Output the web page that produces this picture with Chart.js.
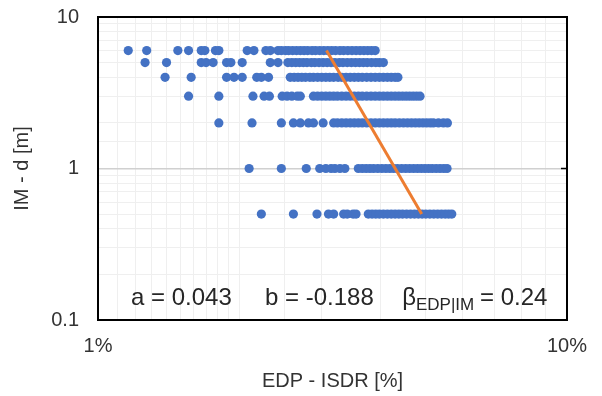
<!DOCTYPE html>
<html>
<head>
<meta charset="utf-8">
<script src="https://cdn.jsdelivr.net/npm/chart.js@4/dist/chart.umd.min.js"></script>
<style>
  html, body { margin: 0; padding: 0; background: #ffffff; }
  #c { display: block; }
</style>
</head>
<body>
<canvas id="c" width="602" height="396"></canvas>
<script>
// IM levels (d [m]) and EDP values (ISDR in %)
const imLevels = [6, 5, 4, 3, 2, 1, 0.5];
const edpAt6 = [1.16, 1.27, 1.48, 1.56, 1.66, 1.69, 1.78, 1.81, 2.08, 2.15, 2.28, 2.33, 2.42, 2.46, 2.51, 2.55, 2.60, 2.65, 2.70, 2.75, 2.80, 2.86, 2.91, 2.97, 3.03, 3.09, 3.15, 3.21, 3.28, 3.34, 3.41, 3.48, 3.55, 3.62, 3.69, 3.76, 3.83, 3.90];
const edpAt5 = [1.26, 1.40, 1.66, 1.70, 1.76, 1.88, 1.92, 2.03, 2.33, 2.42, 2.54, 2.59, 2.64, 2.69, 2.74, 2.79, 2.85, 2.90, 2.96, 3.02, 3.08, 3.14, 3.20, 3.27, 3.33, 3.40, 3.47, 3.54, 3.61, 3.68, 3.75, 3.83, 3.91, 3.98, 4.06];
const edpAt4 = [1.39, 1.58, 1.88, 1.95, 2.03, 2.18, 2.23, 2.31, 2.57, 2.62, 2.67, 2.72, 2.77, 2.83, 2.88, 2.94, 3.00, 3.06, 3.12, 3.18, 3.25, 3.31, 3.38, 3.45, 3.52, 3.59, 3.66, 3.74, 3.82, 3.90, 3.98, 4.06, 4.14, 4.22, 4.30, 4.36];
const edpAt3 = [1.56, 1.81, 2.14, 2.26, 2.32, 2.47, 2.53, 2.59, 2.66, 2.70, 2.88, 2.94, 3.00, 3.06, 3.12, 3.18, 3.24, 3.31, 3.38, 3.45, 3.52, 3.59, 3.66, 3.74, 3.82, 3.90, 3.98, 4.06, 4.14, 4.22, 4.30, 4.38, 4.46, 4.54, 4.62, 4.70, 4.78, 4.86];
const edpAt2 = [1.81, 2.13, 2.46, 2.61, 2.70, 2.81, 2.88, 3.02, 3.18, 3.24, 3.31, 3.38, 3.45, 3.52, 3.59, 3.66, 3.74, 3.82, 3.90, 3.98, 4.06, 4.14, 4.22, 4.30, 4.39, 4.48, 4.57, 4.66, 4.75, 4.84, 4.93, 5.02, 5.11, 5.19, 5.32, 5.45, 5.56];
const edpAt1 = [2.10, 2.46, 2.78, 2.97, 3.06, 3.14, 3.20, 3.28, 3.36, 3.59, 3.66, 3.73, 3.80, 3.87, 3.95, 4.03, 4.11, 4.19, 4.27, 4.35, 4.44, 4.53, 4.62, 4.71, 4.80, 4.89, 4.98, 5.07, 5.16, 5.26, 5.36, 5.46, 5.55];
const edpAt05 = [2.23, 2.61, 2.93, 3.10, 3.18, 3.34, 3.40, 3.50, 3.55, 3.77, 3.84, 3.91, 3.98, 4.06, 4.14, 4.22, 4.30, 4.38, 4.46, 4.55, 4.64, 4.73, 4.82, 4.91, 5.00, 5.10, 5.20, 5.30, 5.40, 5.50, 5.59, 5.68];
// fitted line end points
const fitEdp = [3.07, 4.90];
const fitIm = [6, 0.5];
// tick labels
const xTickLabels = ['1%', '10%'];
const yTickLabels = ['0.1', '1', '10'];
const fitParams = ['a = 0.043', 'b = -0.188', '0.24'];

const edpByLevel = [edpAt6, edpAt5, edpAt4, edpAt3, edpAt2, edpAt1, edpAt05];
const points = [];
imLevels.forEach((im, i) => edpByLevel[i].forEach(x => points.push({ x: x, y: im })));
const fitPoints = fitEdp.map((x, i) => ({ x: x, y: fitIm[i] }));

const FONT = "'Liberation Sans', Arial, sans-serif";
const TXT = '#333333';

function isDecade(v) {
  const l = Math.log10(v);
  return Math.abs(l - Math.round(l)) < 1e-9;
}

const framePlugin = {
  id: 'frame',
  afterDraw(chart) {
    const ctx = chart.ctx;
    const a = chart.chartArea;
    const ys = chart.scales.y;
    ctx.save();
    // black plot frame
    ctx.strokeStyle = '#000000';
    ctx.lineWidth = 2;
    ctx.strokeRect(a.left, a.top, a.right - a.left, a.bottom - a.top);
    // small tick mark on right edge at IM = 1
    const y1 = ys.getPixelForValue(1);
    ctx.lineWidth = 1.5;
    ctx.beginPath();
    ctx.moveTo(a.right - 6, y1);
    ctx.lineTo(a.right, y1);
    ctx.stroke();
    // fit parameter annotation
    ctx.fillStyle = '#262626';
    ctx.textBaseline = 'alphabetic';
    ctx.textAlign = 'left';
    const base = a.bottom - 15;
    ctx.font = '24px ' + FONT;
    ctx.fillText(fitParams[0], 131, base);
    ctx.fillText(fitParams[1], 265, base);
    ctx.textAlign = 'right';
    ctx.fillText('\u03B2', 416, base);
    ctx.textAlign = 'left';
    ctx.fillText('= ' + fitParams[2], 480, base);
    ctx.font = '17px ' + FONT;
    ctx.fillText('EDP|IM', 416, base + 5);
    ctx.restore();
  }
};

new Chart(document.getElementById('c'), {
  type: 'scatter',
  data: {
    datasets: [
      {
        label: 'fit',
        data: fitPoints,
        showLine: true,
        borderColor: '#ED7D31',
        backgroundColor: '#ED7D31',
        borderWidth: 3,
        pointRadius: 0,
        order: 0
      },
      {
        label: 'records',
        data: points,
        backgroundColor: '#4472C4',
        borderColor: '#4472C4',
        borderWidth: 0,
        pointRadius: 4.6,
        order: 1
      }
    ]
  },
  options: {
    responsive: false,
    animation: false,
    devicePixelRatio: 1,
    layout: { padding: { top: 17, right: 35, left: 0, bottom: 0 } },
    plugins: { legend: { display: false }, tooltip: { enabled: false } },
    scales: {
      x: {
        type: 'logarithmic',
        min: 1,
        max: 10,
        border: { display: false },
        grid: { color: '#efefef', lineWidth: 1, drawTicks: false },
        ticks: {
          autoSkip: false,
          maxRotation: 0,
          padding: 14,
          color: TXT,
          font: { family: FONT, size: 20 },
          callback: (v) => isDecade(v) ? xTickLabels[Math.round(Math.log10(v))] : ''
        },
        title: {
          display: true,
          text: 'EDP - ISDR [%]',
          color: TXT,
          font: { family: FONT, size: 20 },
          padding: { top: 0, bottom: 3 }
        },
        afterFit: (s) => { s.height = 76; s.paddingLeft = 0; s.paddingRight = 0; }
      },
      y: {
        type: 'logarithmic',
        min: 0.1,
        max: 10,
        border: { display: false },
        grid: {
          color: (c) => (c.tick && c.tick.value === 1) ? '#d0d0d0' : '#efefef',
          lineWidth: (c) => (c.tick && c.tick.value === 1) ? 1.5 : 1,
          drawTicks: false
        },
        ticks: {
          autoSkip: false,
          padding: 19,
          color: TXT,
          font: { family: FONT, size: 20 },
          callback: (v) => isDecade(v) ? yTickLabels[Math.round(Math.log10(v)) + 1] : ''
        },
        title: {
          display: true,
          text: 'IM - d [m]',
          color: TXT,
          font: { family: FONT, size: 20 },
          padding: { top: 10, bottom: 0 }
        },
        afterFit: (s) => { s.width = 98; s.paddingTop = 0; s.paddingBottom = 0; }
      }
    }
  },
  plugins: [framePlugin]
});
</script>
</body>
</html>
